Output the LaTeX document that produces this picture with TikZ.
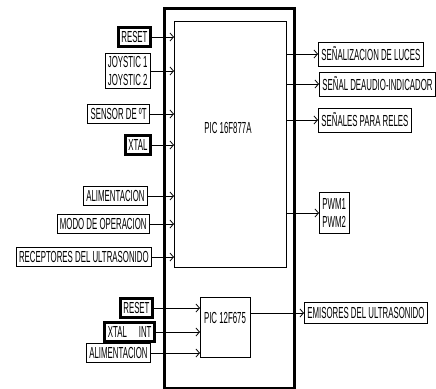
\documentclass[tikz,border=0pt]{standalone}
\usepackage{fontspec}
\setmainfont{Liberation Sans}[FakeStretch=0.49]
\usetikzlibrary{arrows.meta, positioning}

\begin{document}
\begin{tikzpicture}[x=1pt, y=-1pt,
    every node/.style={font=\fontsize{16}{18}\selectfont},
    sig/.style={draw, line width=0.8pt, inner xsep=3pt, inner ysep=2pt, minimum height=19pt},
    sigthick/.style={sig, line width=3pt},
    outsig/.style={sig, minimum height=24pt},
    feed/.style={-{Straight Barb[length=3.5pt, width=8pt]}, line width=0.8pt}]
  \useasboundingbox (0,0) rectangle (436,388);
  % main board and the two controllers
  \node[draw, line width=3pt, anchor=north west, inner sep=0pt,
        minimum width=130pt, minimum height=380pt] (board) at (163,7) {};
  \node[draw, line width=0.8pt, anchor=north west, inner sep=0pt,
        minimum width=112pt, minimum height=246pt] (pic1) at (174,21) {};
  \node (pic1lbl) at (228,128) {PIC 16F877A};
  \node[draw, line width=0.8pt, anchor=north west, inner sep=0pt,
        minimum width=50pt, minimum height=60pt] (pic2) at (200,297) {};
  \node (pic2lbl) at (225,318) {PIC 12F675};
  % inputs of the PIC 16F877A
  \node[sigthick, anchor=east] (rst1) at (152,37) {RESET};
  \node[sig, anchor=east, align=center, minimum height=35pt] (joy) at (151,71) {JOYSTIC 1\\JOYSTIC 2};
  \node[sig, anchor=east] (sensor) at (150,114) {SENSOR DE ºT};
  \node[sigthick, anchor=east] (xtal1) at (152,145) {XTAL};
  \node[sig, anchor=east] (alim1) at (148,196) {ALIMENTACION};
  \node[sig, anchor=east] (modo) at (150,224) {MODO DE OPERACION};
  \node[sig, anchor=east] (recep) at (152,257) {RECEPTORES DEL ULTRASONIDO};
  \foreach \n in {rst1,joy,sensor,xtal1,alim1,modo,recep}
    \draw[feed] (\n.east) -- (\n.east -| pic1.west);
  % inputs of the PIC 12F675
  \node[sigthick, anchor=east] (rst2) at (154,308) {RESET};
  \node[sigthick, anchor=east] (xtal2) at (156,332) {XTAL\hspace{12pt}INT};
  \node[sig, anchor=east] (alim2) at (151,353) {ALIMENTACION};
  \foreach \n in {rst2,xtal2,alim2}
    \draw[feed] (\n.east) -- (\n.east -| pic2.west);
  % outputs
  \node[outsig, anchor=west] (luces) at (318,54) {SEÑALIZACION DE LUCES};
  \node[outsig, anchor=west] (audio) at (319,84) {SEÑAL DEAUDIO-INDICADOR};
  \node[outsig, anchor=west] (reles) at (318,120) {SEÑALES PARA RELES};
  \node[sig, anchor=west, align=left, minimum height=41pt] (pwm) at (319,213) {PWM1\\PWM2};
  \foreach \n in {luces,audio,reles,pwm}
    \draw[feed] (\n.west -| pic1.east) -- (\n.west);
  \node[sig, anchor=west, minimum height=21pt] (emis) at (304,313) {EMISORES DEL ULTRASONIDO};
  \draw[feed] (emis.west -| pic2.east) -- (emis.west);
\end{tikzpicture}
\end{document}
